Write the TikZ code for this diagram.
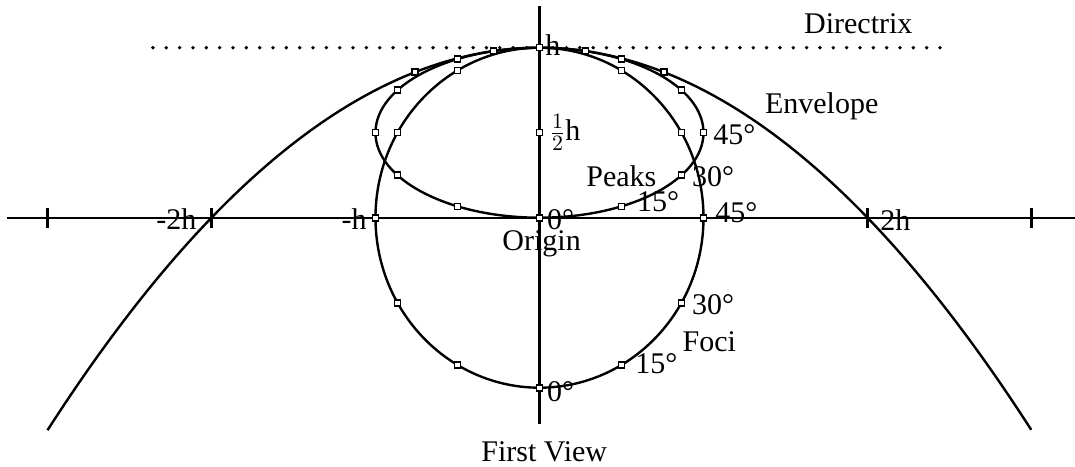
\documentclass[tikz,border=0pt]{standalone}
\usepackage{fontspec}
\setmainfont{Liberation Serif}

\tikzset{
  curve/.style={line width=1.2pt, line join=round},
  axisline/.style={line width=1.1pt},
  tag/.style={inner sep=0pt, font=\fontsize{15}{18}\selectfont},
  pt/.style={rectangle, draw, fill=white, line width=0.8pt, inner sep=0pt, minimum size=3pt},
}

\begin{document}
\begin{tikzpicture}[x=82pt, y=85pt]
\useasboundingbox (-3.2896,-1.4606) rectangle (3.2652,1.2806);

% Axes
\coordinate (xl) at (-3.247,0);
\coordinate (xr) at (3.2652,0);
\coordinate (yb) at (0,-1.2135);
\coordinate (yt) at (0,1.245);
\draw[axisline] (xl) -- (xr);
\draw[axisline] (yb) -- (yt);
\foreach \t in {-3,-2,2,3}
  \draw[axisline] (\t,-0.06) -- (\t,0.06);

% Directrix
\draw[line width=1.9pt, line cap=round, dash pattern=on 0pt off 6.67pt] (-2.357,1) -- (2.513,1);

% Envelope
\draw[curve] plot[domain=-3:3, samples=121, smooth] (\x, {1-\x*\x/4});

% Foci and peaks
\draw[curve] (0,0) ellipse [x radius=1, y radius=1];
\draw[curve] (0,0.5) ellipse [x radius=1, y radius=0.5];

% Marks every 15 degrees
\foreach \a in {0,30,...,330} {
  \node[pt] (foc\a) at ({sin(\a)}, {-cos(\a)}) {};
  \node[pt] (pk\a) at ({sin(\a)}, {(1-cos(\a))/2}) {};
}
\foreach \u [count=\i] in {-0.76,-0.28,0.28,0.76}
  \node[pt] (env\i) at (\u, {1-\u*\u/4}) {};
\node[pt] (half) at (0,0.5) {};

% Labels
\node[tag] (directrix) at (1.944,1.139) {Directrix};
\node[tag] (envelope) at (1.721,0.653) {Envelope};
\node[tag, anchor=west] (lpk45) at (1.058,0.486) {45°};
\node[tag, anchor=west] (lpk30) at (0.928,0.241) {30°};
\node[tag] (peaks) at (0.499,0.241) {Peaks};
\node[tag, anchor=west] (lpk15) at (0.593,0.097) {15°};
\node[tag, anchor=west] (lfoc45) at (1.070,0.028) {45°};
\node[tag, anchor=west] (twoh) at (2.076,-0.015) {2h};
\node[tag, anchor=east] (mtwoh) at (-2.090,-0.008) {-2h};
\node[tag, anchor=east] (mh) at (-1.052,-0.008) {-h};
\node[tag, anchor=west] (toph) at (0.034,1.016) {h};
\node[tag, anchor=west] (halfh) at (0.06,0.501) {$\frac{1}{2}$h};
\node[tag, anchor=west] (lpk0) at (0.044,-0.01) {0°};
\node[tag] (origin) at (0.013,-0.152) {Origin};
\node[tag, anchor=west] (lfoc30) at (0.928,-0.514) {30°};
\node[tag] (foci) at (1.035,-0.729) {Foci};
\node[tag, anchor=west] (lfoc15) at (0.582,-0.857) {15°};
\node[tag, anchor=west] (lfoc0) at (0.044,-1.024) {0°};
\node[tag] (view) at (0.029,-1.376) {First View};

\end{tikzpicture}
\end{document}
